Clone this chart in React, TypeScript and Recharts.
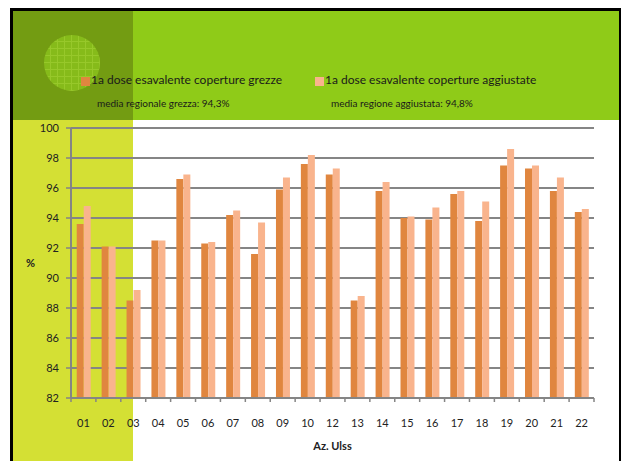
import React from 'react';
import { BarChart, Bar, XAxis, YAxis, CartesianGrid, Label } from 'recharts';

const categories = ['01', '02', '03', '04', '05', '06', '07', '08', '09', '10', '12', '13', '14', '15', '16', '17', '18', '19', '20', '21', '22'];
const grezze = [93.6, 92.1, 88.5, 92.5, 96.6, 92.3, 94.2, 91.6, 95.9, 97.6, 96.9, 88.5, 95.8, 94.0, 93.9, 95.6, 93.8, 97.5, 97.3, 95.8, 94.4];
const aggiustate = [94.8, 92.1, 89.2, 92.5, 96.9, 92.4, 94.5, 93.7, 96.7, 98.2, 97.3, 88.8, 96.4, 94.1, 94.7, 95.8, 95.1, 98.6, 97.5, 96.7, 94.6];
const yTicks = [82, 84, 86, 88, 90, 92, 94, 96, 98, 100];
const seriesNames = ['1a dose esavalente coperture grezze', '1a dose esavalente coperture aggiustate'];
const mediaLabels = ['media regionale grezza: 94,3%', 'media regione aggiustata: 94,8%'];

const DARK = '#e0863f';
const LIGHT = '#f9b48d';
const GRID = '#858585';

const data = categories.map((c, i) => ({ ulss: c, grezze: grezze[i], aggiustate: aggiustate[i] }));

// category label plus Excel-style tick marks on the band edges
const UlssTick = (props: any) => {
  const { x, y, payload } = props;
  const half = payload.offset ?? 0;
  const last = payload.value === categories[categories.length - 1];
  return (
    <g>
      <line x1={x - half} x2={x - half} y1={y} y2={y + 4} stroke={GRID} strokeWidth={1.5} />
      {last && <line x1={x + half} x2={x + half} y1={y} y2={y + 4} stroke={GRID} strokeWidth={1.5} />}
      <text x={x} y={y + 29} textAnchor="middle" fontSize={11} fill="#222">
        {payload.value}
      </text>
    </g>
  );
};

export default function App() {
  return (
    <div
      style={{
        position: 'fixed',
        left: 0,
        top: 0,
        width: 621,
        height: 461,
        background: '#fff',
        overflow: 'hidden',
        fontFamily: 'Lato, "Open Sans", sans-serif',
      }}
    >
      {/* frame */}
      <div style={{ position: 'absolute', left: 10, top: 8, width: 611, height: 470, background: '#000' }} />
      <div style={{ position: 'absolute', left: 13, top: 11, width: 606, height: 470, background: '#fff' }} />
      {/* header + side panel */}
      <div style={{ position: 'absolute', left: 13, top: 11, width: 606, height: 109, background: '#8fcb18' }} />
      <div style={{ position: 'absolute', left: 13, top: 11, width: 120, height: 109, background: '#739c12' }} />
      <div style={{ position: 'absolute', left: 13, top: 120, width: 120, height: 350, background: '#d4e034' }} />
      <svg style={{ position: 'absolute', left: 43, top: 34 }} width={58} height={58}>
        <defs>
          <pattern id="net" width={7} height={7} patternUnits="userSpaceOnUse">
            <rect width={7} height={7} fill="#86bb1a" />
            <path d="M0 0.5H7M0.5 0V7" stroke="#97c82a" strokeWidth={1} />
          </pattern>
        </defs>
        <circle cx={29} cy={29} r={28} fill="url(#net)" />
      </svg>

      {/* legend */}
      <div style={{ position: 'absolute', left: 81, top: 77, width: 9, height: 9, background: DARK }} />
      <div style={{ position: 'absolute', left: 91, top: 72, fontSize: 12, color: '#1a1a1a', whiteSpace: 'nowrap' }}>
        {seriesNames[0]}
      </div>
      <div style={{ position: 'absolute', left: 315, top: 77, width: 9, height: 9, background: LIGHT }} />
      <div style={{ position: 'absolute', left: 325, top: 72, fontSize: 12, color: '#1a1a1a', whiteSpace: 'nowrap' }}>
        {seriesNames[1]}
      </div>
      <div style={{ position: 'absolute', left: 97, top: 97, fontSize: 10, color: '#1a1a1a', whiteSpace: 'nowrap' }}>
        {mediaLabels[0]}
      </div>
      <div style={{ position: 'absolute', left: 331, top: 97, fontSize: 10, color: '#1a1a1a', whiteSpace: 'nowrap' }}>
        {mediaLabels[1]}
      </div>

      <div style={{ position: 'absolute', left: 0, top: 0 }}>
        <BarChart
          width={621}
          height={461}
          data={data}
          margin={{ top: 128, right: 27, bottom: 7, left: 0 }}
          barCategoryGap="23%"
          barGap={0}
        >
          <CartesianGrid vertical={false} stroke={GRID} strokeWidth={2} />
          <XAxis
            dataKey="ulss"
            height={56}
            tickLine={false}
            tickSize={0}
            tickMargin={0}
            interval={0}
            axisLine={{ stroke: GRID, strokeWidth: 2 }}
            tick={<UlssTick />}
          >
            <Label value="Az. Ulss" position="insideBottom" offset={4} fontSize={11} fontWeight="bold" fill="#222" />
          </XAxis>
          <YAxis
            width={71}
            domain={[82, 100]}
            ticks={yTicks}
            interval={0}
            allowDataOverflow
            tickSize={5}
            tickMargin={7}
            tickLine={{ stroke: GRID, strokeWidth: 1.5 }}
            axisLine={{ stroke: GRID, strokeWidth: 2 }}
            tick={{ fontSize: 11, fill: '#222' }}
          >
            <Label value="%" position="insideLeft" offset={26} fontSize={11} fontWeight="bold" fill="#222" />
          </YAxis>
          <Bar dataKey="grezze" name={seriesNames[0]} fill={DARK} isAnimationActive={false} />
          <Bar dataKey="aggiustate" name={seriesNames[1]} fill={LIGHT} isAnimationActive={false} />
        </BarChart>
      </div>
    </div>
  );
}
